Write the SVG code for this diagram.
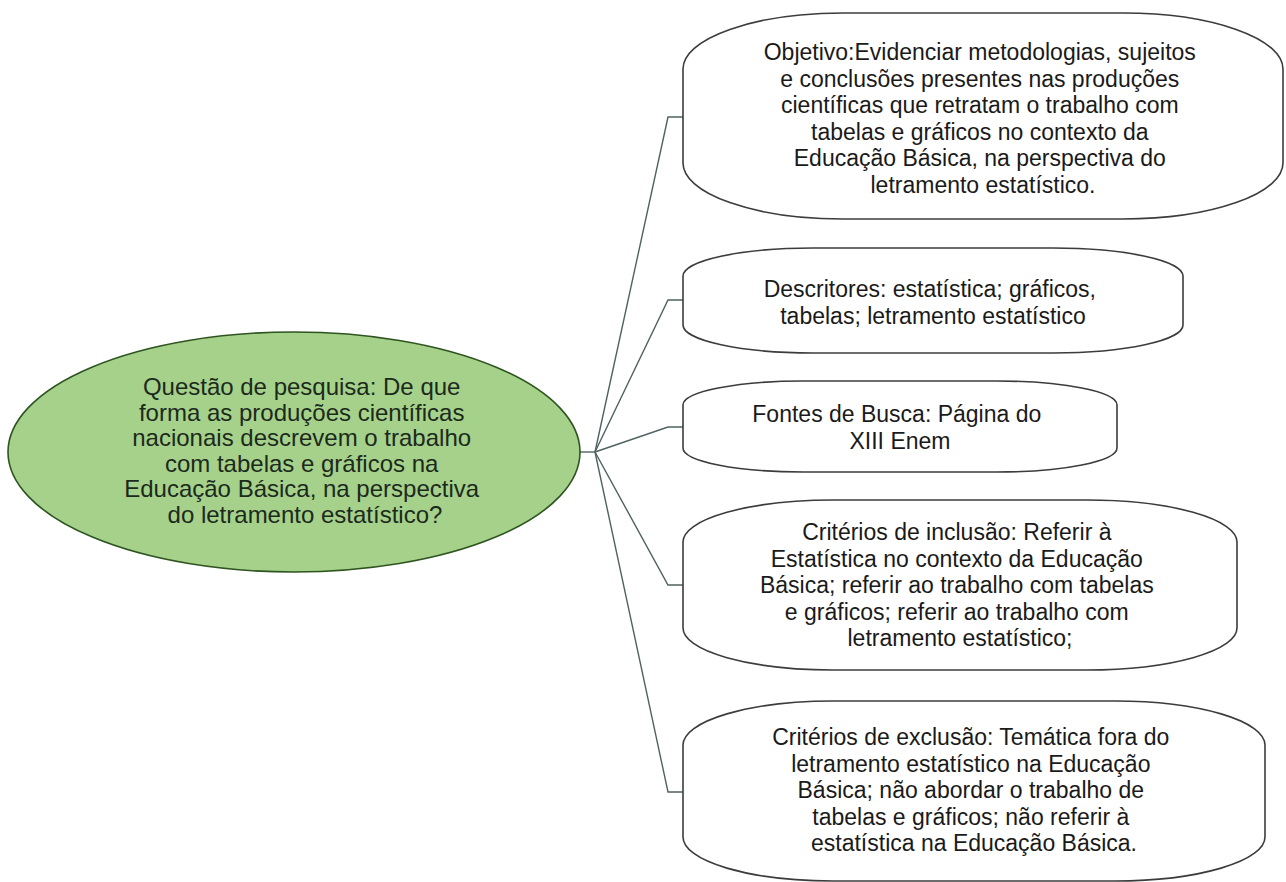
<svg xmlns="http://www.w3.org/2000/svg" width="1286" height="882" viewBox="0 0 1286 882">
<style>
.bg{fill:#ffffff}
.node{fill:#ffffff;stroke:#3c3c3c;stroke-width:1.6}
.main{fill:#a6d18b;stroke:#2e5420;stroke-width:1.6}
.conn{fill:none;stroke:#4f6262;stroke-width:1.4}
text{font-family:"Liberation Sans",Arial,sans-serif;text-anchor:middle}
.t{font-size:23px;fill:#1a1a1a}
.tm{font-size:24px;fill:#1c2a1c}
</style>
<rect class="bg" x="0" y="0" width="1286" height="882"/>
<g id="connectors">
<path class="conn" d="M580,452 H595"/>
<path class="conn" d="M595,452 L668,117 H683"/>
<path class="conn" d="M595,452 L668,300 H683"/>
<path class="conn" d="M595,452 L668,427 H683"/>
<path class="conn" d="M595,452 L668,585 H683"/>
<path class="conn" d="M595,452 L668,792 H683"/>
</g>
<g id="question">
<ellipse class="main" cx="294" cy="452" rx="286" ry="120"/>
<text class="tm">
<tspan x="305" y="395">Questão de pesquisa: De que</tspan>
<tspan x="305" y="420.5">forma as produções científicas</tspan>
<tspan x="305" y="446">nacionais descrevem o trabalho</tspan>
<tspan x="305" y="471.5">com tabelas e gráficos na</tspan>
<tspan x="305" y="497">Educação Básica, na perspectiva</tspan>
<tspan x="305" y="522.5">do letramento estatístico?</tspan>
</text>
</g>
<g id="objetivo">
<rect class="node" x="683" y="13" width="600" height="206" rx="160" ry="56"/>
<text class="t">
<tspan x="983" y="60">Objetivo:Evidenciar metodologias, sujeitos</tspan>
<tspan x="983" y="86.5">e conclusões presentes nas produções</tspan>
<tspan x="983" y="113">científicas que retratam o trabalho com</tspan>
<tspan x="983" y="139.5">tabelas e gráficos no contexto da</tspan>
<tspan x="983" y="166">Educação Básica, na perspectiva do</tspan>
<tspan x="983" y="192.5">letramento estatístico.</tspan>
</text>
</g>
<g id="descritores">
<rect class="node" x="683" y="248" width="500" height="105" rx="130" ry="28"/>
<text class="t">
<tspan x="933" y="297">Descritores: estatística; gráficos,</tspan>
<tspan x="933" y="323.5">tabelas; letramento estatístico</tspan>
</text>
</g>
<g id="fontes">
<rect class="node" x="683" y="381" width="434" height="91" rx="120" ry="24"/>
<text class="t">
<tspan x="900" y="422">Fontes de Busca: Página do</tspan>
<tspan x="900" y="448.5">XIII Enem</tspan>
</text>
</g>
<g id="inclusao">
<rect class="node" x="683" y="500" width="554" height="170" rx="150" ry="42"/>
<text class="t">
<tspan x="960" y="540">Critérios de inclusão: Referir à</tspan>
<tspan x="960" y="566.5">Estatística no contexto da Educação</tspan>
<tspan x="960" y="593">Básica; referir ao trabalho com tabelas</tspan>
<tspan x="960" y="619.5">e gráficos; referir ao trabalho com</tspan>
<tspan x="960" y="646">letramento estatístico;</tspan>
</text>
</g>
<g id="exclusao">
<rect class="node" x="683" y="701" width="582" height="180" rx="150" ry="44"/>
<text class="t">
<tspan x="974" y="745">Critérios de exclusão: Temática fora do</tspan>
<tspan x="974" y="771.5">letramento estatístico na Educação</tspan>
<tspan x="974" y="798">Básica; não abordar o trabalho de</tspan>
<tspan x="974" y="824.5">tabelas e gráficos; não referir à</tspan>
<tspan x="974" y="851">estatística na Educação Básica.</tspan>
</text>
</g>
</svg>
